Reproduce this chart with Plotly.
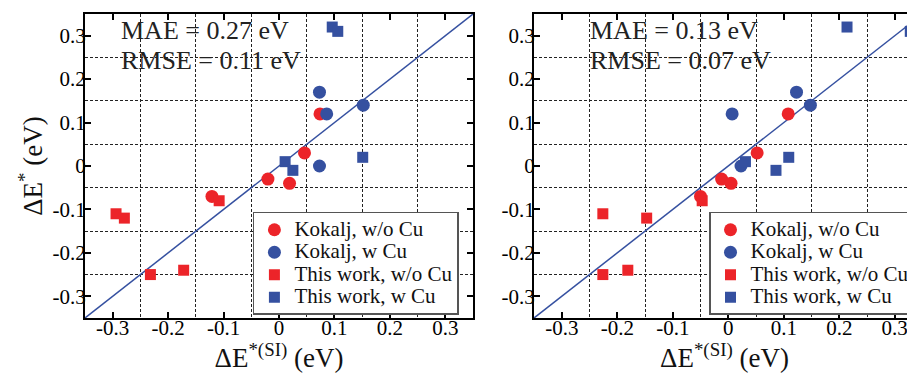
import plotly.graph_objects as go

# ---------------- data ----------------
# Left panel
L_kok_noCu_x = [0.074, 0.046, -0.020, 0.019, -0.121]
L_kok_noCu_y = [0.12, 0.03, -0.03, -0.04, -0.07]
L_kok_Cu_x = [0.073, 0.086, 0.152, 0.073]
L_kok_Cu_y = [0.17, 0.12, 0.14, 0.00]
L_tw_noCu_x = [-0.294, -0.279, -0.232, -0.172, -0.108]
L_tw_noCu_y = [-0.11, -0.12, -0.25, -0.24, -0.08]
L_tw_Cu_x = [0.096, 0.106, 0.011, 0.025, 0.151]
L_tw_Cu_y = [0.32, 0.31, 0.01, -0.01, 0.02]

# Right panel
R_kok_noCu_x = [0.108, 0.052, -0.012, 0.005, -0.050]
R_kok_noCu_y = [0.12, 0.03, -0.03, -0.04, -0.07]
R_kok_Cu_x = [0.123, 0.007, 0.148, 0.023]
R_kok_Cu_y = [0.17, 0.12, 0.14, 0.00]
R_tw_noCu_x = [-0.226, -0.147, -0.226, -0.181, -0.047]
R_tw_noCu_y = [-0.11, -0.12, -0.25, -0.24, -0.08]
R_tw_Cu_x = [0.214, 0.328, 0.031, 0.086, 0.109]
R_tw_Cu_y = [0.32, 0.31, 0.01, -0.01, 0.02]

diag = [-0.35, 0.35]
x_range_left = [-0.35, 0.35]
x_range_right = [-0.35, 0.3365]
y_range = [-0.35, 0.35]
tick_vals = [-0.3, -0.2, -0.1, 0, 0.1, 0.2, 0.3]
tick_text = ["-0.3", "-0.2", "-0.1", "0", "0.1", "0.2", "0.3"]
grid_vals = [-0.25, -0.15, -0.05, 0.05, 0.15, 0.25]

series_names = ["Kokalj, w/o Cu", "Kokalj, w Cu", "This work, w/o Cu", "This work, w Cu"]
stats_left = ["MAE = 0.27 eV", "RMSE = 0.11 eV"]
stats_right = ["MAE = 0.13 eV", "RMSE = 0.07 eV"]

RED = "#EC2429"
BLUE = "#3550A0"
FONT = "Liberation Serif, Times New Roman, serif"

fig = go.Figure()

panels = [
    ("x", "y", "legend",
     [(L_kok_noCu_x, L_kok_noCu_y), (L_kok_Cu_x, L_kok_Cu_y),
      (L_tw_noCu_x, L_tw_noCu_y), (L_tw_Cu_x, L_tw_Cu_y)]),
    ("x2", "y2", "legend2",
     [(R_kok_noCu_x, R_kok_noCu_y), (R_kok_Cu_x, R_kok_Cu_y),
      (R_tw_noCu_x, R_tw_noCu_y), (R_tw_Cu_x, R_tw_Cu_y)]),
]
styles = [("circle", RED, 13), ("circle", BLUE, 13), ("square", RED, 11), ("square", BLUE, 11)]

for xa, ya, lg, series in panels:
    fig.add_trace(go.Scatter(x=diag, y=diag, mode="lines", xaxis=xa, yaxis=ya,
                             line=dict(color=BLUE, width=1.5), showlegend=False,
                             hoverinfo="skip"))
    for (sx, sy), name, (sym, col, sz) in zip(series, series_names, styles):
        fig.add_trace(go.Scatter(x=sx, y=sy, mode="markers",
                                 name='<span style="font-size:21px">' + name + '</span>',
                                 xaxis=xa, yaxis=ya, legend=lg,
                                 marker=dict(symbol=sym, color=col, size=sz,
                                             line=dict(width=0))))

axis_common = dict(
    tickmode="array", tickvals=tick_vals, ticktext=tick_text,
    ticks="inside", ticklen=6, tickwidth=1.5, tickcolor="black",
    showgrid=False, zeroline=False, automargin=False,
    showline=True, linecolor="black", linewidth=2,
    tickfont=dict(family=FONT, size=21, color="black"),
    minor=dict(tickmode="array", tickvals=grid_vals, showgrid=True,
               gridcolor="#222", gridwidth=1, griddash="3px,2px", ticks=""),
)

title_font = dict(family=FONT, size=27, color="#111")
xtitle = "ΔE<sup>*(SI)</sup> (eV)"

# The page body adds an 8px offset, so the figure is 8px smaller than the window.
fig.update_layout(
    width=907, height=365,
    margin=dict(l=77, r=0, t=6, b=55),
    paper_bgcolor="white", plot_bgcolor="white",
    font=dict(family=FONT, color="#111"),
    xaxis=dict(axis_common, domain=[0, 0.4675], range=x_range_left, mirror="allticks",
               anchor="y", ticklabelstandoff=-10,
               title=dict(text=xtitle, font=title_font, standoff=2)),
    yaxis=dict(axis_common, domain=[0, 1], range=y_range, mirror="allticks",
               anchor="x", ticklabelstandoff=-7,
               title=dict(text="ΔE<sup>*</sup> (eV)", font=title_font, standoff=2)),
    xaxis2=dict(axis_common, domain=[0.541, 1], range=x_range_right, mirror="allticks",
                anchor="y2", ticklabelstandoff=-10,
                title=dict(text=xtitle, font=title_font, standoff=2)),
    yaxis2=dict(axis_common, domain=[0, 1], range=y_range, mirror=False, anchor="x2",
                ticklabelstandoff=-7),
    legend=dict(x=0.4505, y=0.3487, xanchor="right", yanchor="top",
                bgcolor="white", bordercolor="#555", borderwidth=1.5,
                font=dict(family=FONT, size=15, color="#111"),
                tracegroupgap=0),
    legend2=dict(x=1.0, y=0.3487, xanchor="right", yanchor="top",
                 bgcolor="white", bordercolor="#555", borderwidth=1.5,
                 font=dict(family=FONT, size=15, color="#111"),
                 tracegroupgap=0),
    showlegend=True,
)

ann = []
for (xr, yr, xpos, texts) in [("x", "y", -0.289, stats_left), ("x2", "y2", -0.2535, stats_right)]:
    for t, ypos in zip(texts, [0.311, 0.244]):
        ann.append(dict(xref=xr, yref=yr, x=xpos, y=ypos, text=t, showarrow=False,
                        xanchor="left", yanchor="middle",
                        font=dict(family=FONT, size=26, color="#222")))
fig.update_layout(annotations=ann)

fig.write_html("out.html")
